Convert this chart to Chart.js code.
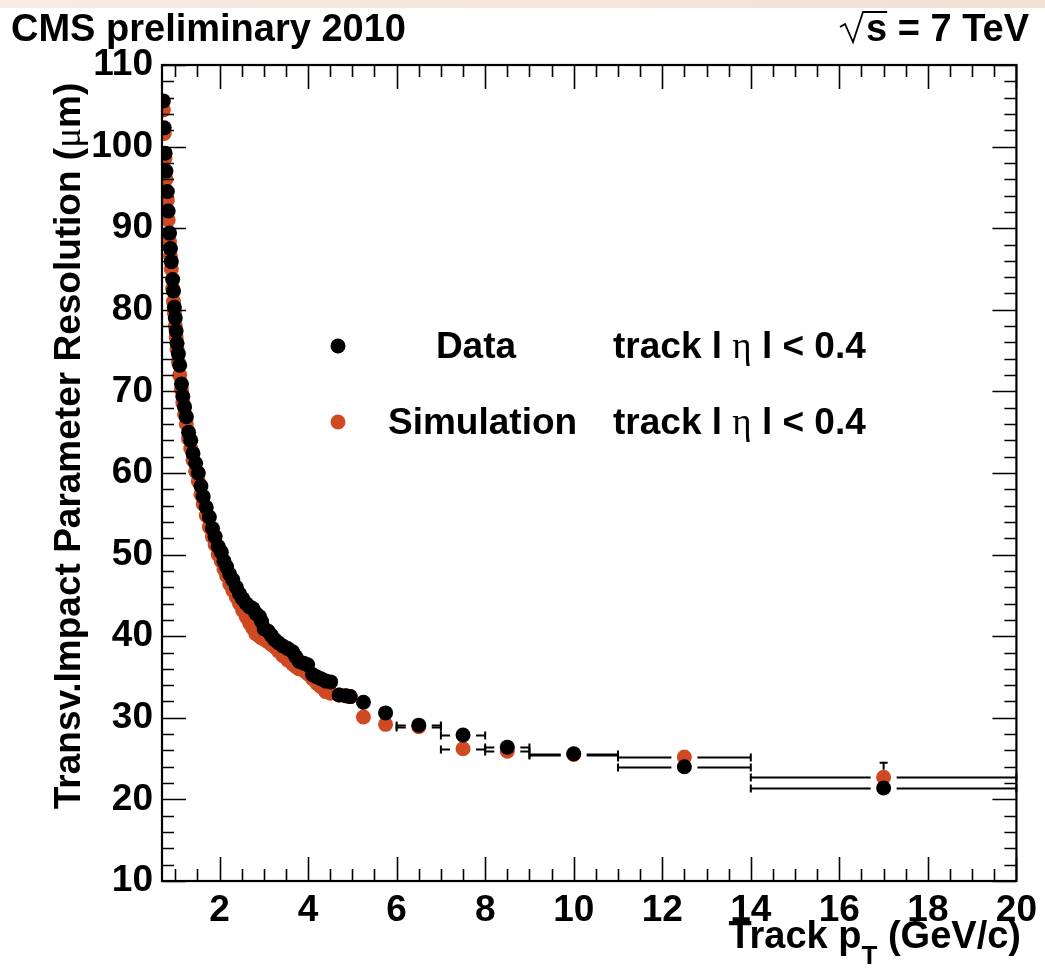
<!DOCTYPE html>
<html>
<head>
<meta charset="utf-8">
<script src="https://cdn.jsdelivr.net/npm/chart.js@4/dist/chart.umd.min.js"></script>
<style>
  html, body { margin: 0; padding: 0; background: #fff; }
  #wrap { width: 1045px; height: 968px; }
</style>
</head>
<body>
<div id="wrap"><canvas id="plot" width="1045" height="968"></canvas></div>
<script>
// ===== CMS 2010: transverse impact parameter resolution vs track pT =====

// track pT bin centres (GeV/c)
const ptBins = [
  0.73, 0.75, 0.77, 0.79, 0.82, 0.84, 0.87, 0.89, 0.91, 0.94,
  0.96, 0.98, 1.00, 1.02, 1.04, 1.07, 1.10, 1.14, 1.17, 1.21,
  1.25, 1.30, 1.35, 1.40, 1.46, 1.52, 1.58, 1.63, 1.70, 1.77,
  1.84, 1.90, 1.97, 2.04, 2.10, 2.16, 2.23, 2.30, 2.38, 2.45,
  2.52, 2.60, 2.68, 2.75, 2.82, 2.90, 2.95, 3.01, 3.10, 3.17,
  3.24, 3.33, 3.43, 3.54, 3.65, 3.72, 3.80, 3.90, 3.99, 4.10,
  4.20, 4.29, 4.40, 4.51, 4.70, 4.85, 4.95,
  5.25, 5.75, 6.5, 7.5, 8.5, 10, 12.5, 17
];
// resolution (um), data
const dataRes = [
  105.6, 102.3, 99.2, 97.0, 94.5, 92.1, 89.4, 87.5, 85.9, 83.7,
  82.3, 80.3, 79.0, 77.4, 75.9, 74.6, 73.2, 70.9, 69.4, 68.1,
  66.9, 65.0, 64.0, 62.4, 61.2, 60.0, 58.4, 57.1, 55.8, 54.6,
  53.2, 52.2, 51.0, 50.3, 49.2, 48.5, 47.6, 46.9, 46.0, 45.2,
  44.6, 44.0, 43.6, 43.4, 42.8, 42.4, 41.8, 40.9, 40.6, 40.1,
  39.6, 39.2, 38.8, 38.5, 38.1, 37.5, 36.9, 36.7, 36.5, 35.3,
  35.0, 34.8, 34.5, 34.4, 32.8, 32.7, 32.6,
  31.9, 30.6, 29.1, 27.9, 26.4, 25.6, 24.0, 21.4
];
// resolution (um), simulation
const simRes = [
  104.5, 101.6, 98.6, 96.0, 93.4, 91.0, 88.4, 86.6, 85.0, 82.6,
  81.0, 79.6, 78.0, 76.6, 75.2, 73.6, 72.0, 70.2, 68.6, 67.2,
  66.0, 64.2, 63.0, 61.6, 60.2, 59.0, 57.4, 56.2, 54.8, 53.4,
  52.2, 51.2, 50.0, 49.2, 48.2, 47.4, 46.4, 45.6, 44.8, 44.0,
  43.2, 42.4, 41.6, 41.0, 40.3, 40.0, 39.8, 39.6, 39.3, 39.0,
  38.7, 38.2, 37.6, 37.1, 36.6, 36.3, 36.0, 35.8, 35.4, 34.8,
  34.2, 33.8, 33.2, 33.0, 32.8, 32.7, 32.6,
  30.1, 29.2, 28.9, 26.2, 25.9, 25.5, 25.2, 22.7
];
// half bin widths of the wide bins at the end (last 8 points)
const wideBinHalf = [0.25, 0.25, 0.5, 0.5, 0.5, 1, 1.5, 3];
// upper y error on the last simulation point
const simLastErrUp = 1.8;

const xTickValues = [2, 4, 6, 8, 10, 12, 14, 16, 18, 20];
const yTickValues = [10, 20, 30, 40, 50, 60, 70, 80, 90, 100, 110];

const SANS = '"Liberation Sans", Arial, sans-serif';
const SERIF = '"Liberation Serif", "DejaVu Serif", serif';
const ORANGE = '#cf4a22';
const R = 7.5;

function halfWidths() {
  const n = ptBins.length, w = wideBinHalf.length;
  return ptBins.map((p, i) => (i >= n - w ? wideBinHalf[i - (n - w)] : 0));
}
const xErr = halfWidths();

function toXY(ys) {
  return ptBins.map((p, i) => ({ x: p, y: ys[i] }));
}

// draw a run of text pieces with different fonts, left to right
function drawPieces(ctx, pieces, x, y) {
  pieces.forEach(p => {
    ctx.font = p.font;
    ctx.fillText(p.t, x, y + (p.dy || 0));
    x += ctx.measureText(p.t).width + (p.gap || 0);
  });
  return x;
}
function piecesWidth(ctx, pieces) {
  let w = 0;
  pieces.forEach(p => { ctx.font = p.font; w += ctx.measureText(p.t).width + (p.gap || 0); });
  return w;
}

const rootStyle = {
  id: 'rootStyle',
  beforeDraw(chart) {
    const ctx = chart.ctx;
    ctx.save();
    const g = ctx.createLinearGradient(0, 0, 1045, 0);
    g.addColorStop(0, '#f8ebe4');
    g.addColorStop(1, '#f3e0d5');
    ctx.fillStyle = g;
    ctx.fillRect(0, 0, 1045, 8);
    ctx.restore();
  },
  beforeDatasetDraw(chart, args) {
    const ctx = chart.ctx, xs = chart.scales.x, ys = chart.scales.y;
    const vals = args.index === 0 ? dataRes : simRes;
    const gap = 13, cap = 4;
    ctx.save();
    ctx.strokeStyle = '#000';
    ctx.lineWidth = 2;
    ctx.beginPath();
    ptBins.forEach((p, i) => {
      if (!xErr[i]) return;
      const px = xs.getPixelForValue(p), py = Math.round(ys.getPixelForValue(vals[i])) + 0.5;
      const xl = xs.getPixelForValue(p - xErr[i]), xr = xs.getPixelForValue(p + xErr[i]);
      if (px - gap > xl) {
        ctx.moveTo(xl, py); ctx.lineTo(px - gap, py);
        ctx.moveTo(xl, py - cap); ctx.lineTo(xl, py + cap);
        ctx.moveTo(px + gap, py); ctx.lineTo(xr, py);
        ctx.moveTo(xr, py - cap); ctx.lineTo(xr, py + cap);
      }
    });
    if (args.index === 1) {
      const i = ptBins.length - 1;
      const px = xs.getPixelForValue(ptBins[i]);
      const top = ys.getPixelForValue(simRes[i] + simLastErrUp);
      const mk = ys.getPixelForValue(simRes[i]) - R;
      ctx.moveTo(px, mk); ctx.lineTo(px, top);
      ctx.moveTo(px - cap, top); ctx.lineTo(px + cap, top);
    }
    ctx.stroke();
    ctx.restore();
  },
  afterDraw(chart) {
    const ctx = chart.ctx, a = chart.chartArea;
    const xs = chart.scales.x, ys = chart.scales.y;
    ctx.save();
    ctx.strokeStyle = '#000';

    // ticks on all four sides, pointing inwards
    ctx.lineWidth = 1.6;
    ctx.beginPath();
    for (let v = 1; v <= 20.001; v += 0.5) {
      const major = Math.abs(v / 2 - Math.round(v / 2)) < 1e-6;
      const L = major ? 24 : 12;
      const px = Math.round(xs.getPixelForValue(v)) + 0.5;
      ctx.moveTo(px, a.bottom); ctx.lineTo(px, a.bottom - L);
      ctx.moveTo(px, a.top); ctx.lineTo(px, a.top + L);
    }
    for (let v = 10; v <= 110.001; v += 2) {
      const major = Math.abs(v / 10 - Math.round(v / 10)) < 1e-6;
      const L = major ? 24 : 12;
      const py = Math.round(ys.getPixelForValue(v)) + 0.5;
      ctx.moveTo(a.left, py); ctx.lineTo(a.left + L, py);
      ctx.moveTo(a.right, py); ctx.lineTo(a.right - L, py);
    }
    ctx.stroke();

    // frame
    ctx.lineWidth = 2.2;
    ctx.strokeRect(a.left, a.top, a.right - a.left, a.bottom - a.top);

    ctx.fillStyle = '#000';
    ctx.textBaseline = 'alphabetic';

    // header
    ctx.textAlign = 'left';
    ctx.font = 'bold 38px ' + SANS;
    ctx.fillText('CMS preliminary 2010', 11, 41);
    ctx.textAlign = 'right';
    const rt = 's = 7 TeV';
    ctx.fillText(rt, 1029, 41);
    const sx = 1029 - ctx.measureText(rt).width;
    const sW = ctx.measureText('s').width;
    ctx.lineWidth = 1.8;
    ctx.beginPath();
    ctx.moveTo(sx - 26, 27); ctx.lineTo(sx - 21, 24); ctx.lineTo(sx - 13, 42);
    ctx.lineTo(sx - 3, 12); ctx.lineTo(sx + sW, 12);
    ctx.stroke();

    // y axis title
    const yt = [
      { t: 'Transv.Impact Parameter Resolution (', font: 'bold 37px ' + SANS },
      { t: 'μ', font: '37px ' + SERIF },
      { t: 'm)', font: 'bold 37px ' + SANS }
    ];
    ctx.save();
    ctx.translate(80, 446);
    ctx.rotate(-Math.PI / 2);
    ctx.textAlign = 'left';
    drawPieces(ctx, yt, -piecesWidth(ctx, yt) / 2, 0);
    ctx.restore();

    // x axis title
    const xt = [
      { t: 'Track p', font: 'bold 38px ' + SANS },
      { t: 'T', font: 'bold 26px ' + SANS, dy: 16 },
      { t: ' (GeV/c)', font: 'bold 38px ' + SANS }
    ];
    ctx.textAlign = 'left';
    drawPieces(ctx, xt, 1021 - piecesWidth(ctx, xt), 948);

    // legend
    const leg = [
      { name: 'Data', color: '#000', y: 346, centre: 476 },
      { name: 'Simulation', color: ORANGE, y: 422, left: 388 }
    ];
    const LF = 'bold 37px ' + SANS;
    leg.forEach(l => {
      ctx.fillStyle = l.color;
      ctx.beginPath(); ctx.arc(338, l.y, R, 0, Math.PI * 2); ctx.fill();
      ctx.fillStyle = '#000';
      ctx.font = LF;
      const w = ctx.measureText(l.name).width;
      const lx = l.left !== undefined ? l.left : l.centre - w / 2;
      ctx.fillText(l.name, lx, l.y + 12);
      drawPieces(ctx, [
        { t: 'track ', font: LF },
        { t: 'l ', font: LF },
        { t: 'η', font: '37px ' + SERIF },
        { t: ' l ', font: LF },
        { t: '< 0.4', font: LF }
      ], 613, l.y + 12);
    });
    ctx.restore();
  }
};

const tickFont = { family: 'Liberation Sans', size: 37, weight: 'bold' };

new Chart(document.getElementById('plot'), {
  type: 'scatter',
  data: {
    datasets: [
      { label: 'Data', data: toXY(dataRes), backgroundColor: '#000', borderWidth: 0 },
      { label: 'Simulation', data: toXY(simRes), backgroundColor: ORANGE, borderWidth: 0 }
    ]
  },
  options: {
    responsive: false,
    animation: false,
    devicePixelRatio: 1,
    layout: { padding: { left: 0, top: 65, right: 24, bottom: 0 } },
    elements: { point: { radius: R, hoverRadius: R, borderWidth: 0 } },
    plugins: { legend: { display: false }, tooltip: { enabled: false } },
    scales: {
      x: {
        type: 'linear', min: 0.7, max: 20,
        grid: { display: false, drawTicks: false },
        border: { display: false },
        afterFit: s => { s.height = 87; },
        afterBuildTicks: s => { s.ticks = xTickValues.map(v => ({ value: v })); },
        ticks: { font: tickFont, color: '#000', padding: 8, maxRotation: 0, autoSkip: false }
      },
      y: {
        type: 'linear', min: 10, max: 110,
        grid: { display: false, drawTicks: false },
        border: { display: false },
        afterFit: s => { s.width = 162; },
        afterBuildTicks: s => { s.ticks = yTickValues.map(v => ({ value: v })); },
        ticks: { font: tickFont, color: '#000', padding: 9, autoSkip: false }
      }
    }
  },
  plugins: [rootStyle]
});
</script>
</body>
</html>
